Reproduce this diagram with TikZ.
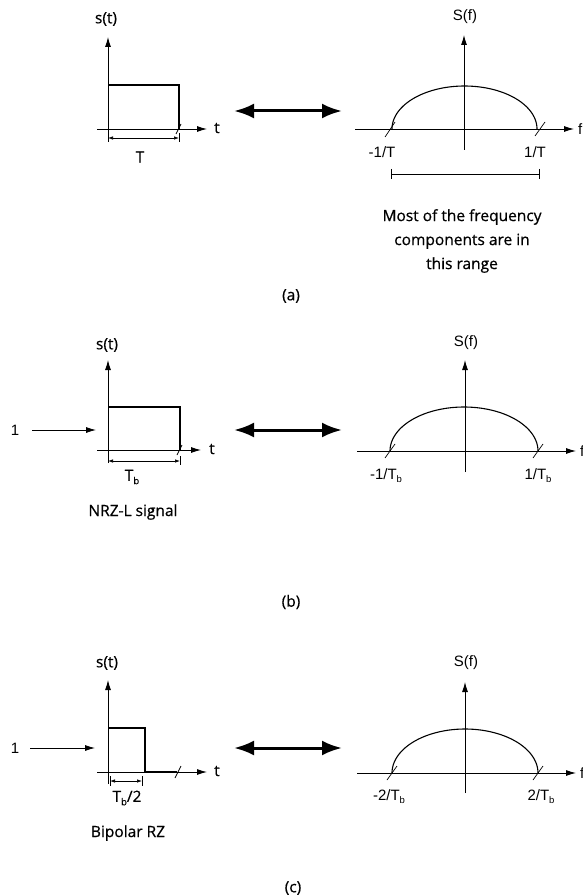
\documentclass[tikz,border=0pt]{standalone}
\usepackage{fontspec}
\setmainfont{Liberation Sans}
\newfontfamily\comic{Open Sans}[FakeBold=0.6]
\usetikzlibrary{arrows.meta}
\newcommand\lowsub[1]{\raisebox{-0.4ex}{\fontsize{9.5}{9.5}\selectfont #1}}
\begin{document}
\begin{tikzpicture}[x=1pt,y=-1pt,
  ax/.style={line width=0.9pt,-{Latex[length=10pt,width=6pt]}},
  thin arrow/.style={line width=0.8pt,-{Latex[length=10pt,width=6pt]}},
  sig/.style={line width=1.1pt},
  dimline/.style={line width=0.7pt,{Latex[length=5pt,width=3.5pt]}-{Latex[length=5pt,width=3.5pt]}},
  tickline/.style={line width=0.7pt},
  big/.style={line width=3pt,{Latex[length=20pt,width=15pt]}-{Latex[length=20pt,width=15pt]}},
  hel/.style={font=\fontsize{15}{17}\selectfont, inner sep=0pt},
  com/.style={font=\comic\fontsize{15.5}{24}\selectfont, inner sep=0pt},
  ]
\useasboundingbox (0,0) rectangle (583,896);

% ================= (a) =================
% left
\draw[ax] (108,142) -- (108,37);
\draw[ax] (97,129) -- (207,129);
\node[com] (a-st) at (106,19) {s(t)};
\node[com, anchor=west] (a-t) at (214,128) {t};
\draw[sig] (108,85) -- (179,85) -- (179,129);
\draw[tickline] (176,134) -- (181,124);
\draw[tickline] (179,133) -- (179,142);
\coordinate (a-d1) at (108,138);
\coordinate (a-d2) at (179,138);
\draw[dimline] (a-d1) -- (a-d2);
\node[com] (a-T) at (140,157) {T};
% double arrow
\coordinate (a-l) at (234,111);
\coordinate (a-r) at (342,111);
\draw[big] (a-l) -- (a-r);
% right
\draw[ax] (464,150) -- (464,35);
\draw[ax] (355,129) -- (574,129);
\node[hel] (a-Sf) at (465,17) {S(f)};
\node[hel, anchor=west] (a-f) at (578,129) {f};
\draw[sig] plot[domain=180:0, samples=80, smooth] ({464.5+72.5*cos(\x)},{129-43*sin(\x)});
\draw[tickline] (385,137) -- (395,122);
\draw[tickline] (535,136) -- (545,122);
\node[hel] (a-m) at (382,152) {-1/T};
\node[hel] (a-p) at (535,152) {1/T};
\draw[tickline] (391,174) -- (539,174);
\draw[tickline] (391,169) -- (391,179);
\draw[tickline] (539,169) -- (539,179);
\node[com, align=center] (a-txt) at (462,241) {Most of the frequency\\components are in\\this range};
\node[com] (a-lab) at (291,296) {(a)};

% ================= (b) =================
\draw[ax] (108,463) -- (108,360);
\draw[ax] (97,450) -- (201,450);
\node[com] (b-st) at (107,345) {s(t)};
\node[com, anchor=west] (b-t) at (209,449) {t};
\draw[sig] (108,407) -- (180,407) -- (180,450);
\draw[tickline] (177,455) -- (182,445);
\draw[tickline] (180,456) -- (180,465);
\coordinate (b-d1) at (108,461);
\coordinate (b-d2) at (180,461);
\draw[dimline] (b-d1) -- (b-d2);
\node[com] (b-T) at (132,477) {T\lowsub{b}};
\node[hel] (b-one) at (15,430) {1};
\coordinate (b-in) at (96,430);
\draw[thin arrow] (b-one.east) ++(13,0) -- (b-in);
\node[com] (b-nrz) at (133,512) {NRZ-L signal};
\coordinate (b-l) at (234,430);
\coordinate (b-r) at (342,430);
\draw[big] (b-l) -- (b-r);
% right
\draw[ax] (465,472) -- (465,360);
\draw[ax] (357,451) -- (576,451);
\node[hel] (b-Sf) at (466,343) {S(f)};
\node[hel, anchor=west] (b-f) at (580,451) {f};
\draw[sig] plot[domain=180:0, samples=80, smooth] ({464+74*cos(\x)},{451-44*sin(\x)});
\draw[tickline] (385,458) -- (395,444);
\draw[tickline] (533,458) -- (543,444);
\node[hel] (b-m) at (386,476) {-1/T\lowsub{b}};
\node[hel] (b-p) at (538,476) {1/T\lowsub{b}};
\node[com] (b-lab) at (291,602) {(b)};

% ================= (c) =================
\draw[ax] (108,784) -- (108,680);
\draw[ax] (97,772) -- (207,772);
\node[com] (c-st) at (107,663) {s(t)};
\node[com, anchor=west] (c-t) at (214,771) {t};
\draw[sig] (108,728) -- (145,728) -- (145,772) -- (177,772);
\draw[tickline] (175,778) -- (181,766);
\draw[tickline] (110,776) -- (110,786);
\draw[tickline] (142,776) -- (142,786);
\coordinate (c-d1) at (110,781);
\coordinate (c-d2) at (142,781);
\draw[dimline] (c-d1) -- (c-d2);
\node[com] (c-T) at (127,798) {T\lowsub{b}/2};
\node[hel] (c-one) at (15,748) {1};
\coordinate (c-in) at (95,748);
\draw[thin arrow] (c-one.east) ++(11,0) -- (c-in);
\node[com] (c-rz) at (128,833) {Bipolar RZ};
\coordinate (c-l) at (234,748);
\coordinate (c-r) at (342,748);
\draw[big] (c-l) -- (c-r);
% right
\draw[ax] (465,793) -- (465,682);
\draw[ax] (357,773) -- (576,773);
\node[hel] (c-Sf) at (466,663) {S(f)};
\node[hel, anchor=west] (c-f) at (580,773) {f};
\draw[sig] plot[domain=180:0, samples=80, smooth] ({465+73*cos(\x)},{773-44*sin(\x)});
\draw[tickline] (387,780) -- (397,766);
\draw[tickline] (533,780) -- (543,766);
\node[hel] (c-m) at (389,797) {-2/T\lowsub{b}};
\node[hel] (c-p) at (541,797) {2/T\lowsub{b}};
\node[com] (c-lab) at (293,888) {(c)};
\end{tikzpicture}
\end{document}
